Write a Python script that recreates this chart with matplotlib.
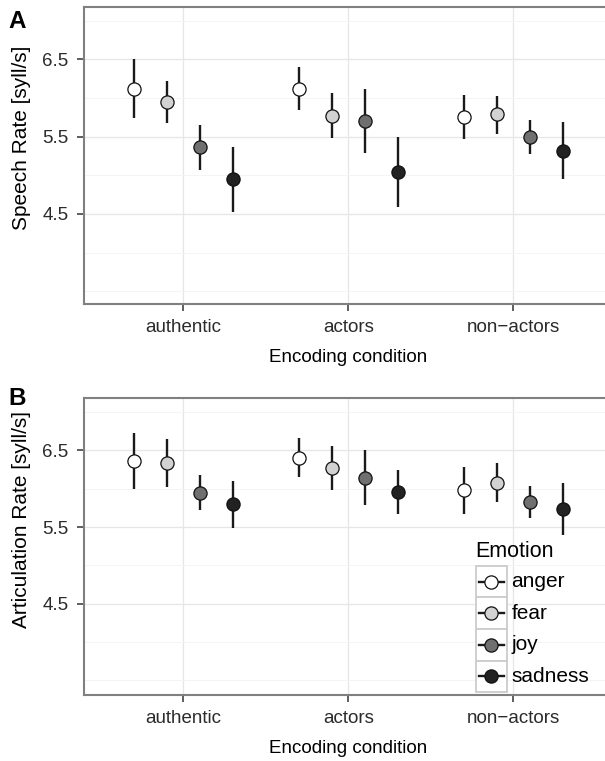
import numpy as np
import matplotlib
matplotlib.use('Agg')
import matplotlib.pyplot as plt
from matplotlib.patches import Rectangle
from matplotlib.lines import Line2D

plt.rcParams['font.family'] = ['Liberation Sans', 'DejaVu Sans']

# data
conditions = ['authentic', 'actors', 'non\u2212actors']
emotions = ['anger', 'fear', 'joy', 'sadness']
emo_colors = ['#ffffff', '#d2d2d2', '#6f6f6f', '#222222']

# speech rate: rows = condition, cols = emotion
speech_mean = [[6.12, 5.95, 5.36, 4.95],
               [6.12, 5.77, 5.70, 5.04],
               [5.75, 5.79, 5.49, 5.32]]
speech_low = [[5.74, 5.68, 5.07, 4.53],
              [5.84, 5.48, 5.29, 4.59],
              [5.47, 5.53, 5.27, 4.95]]
speech_high = [[6.50, 6.22, 5.65, 5.37],
               [6.40, 6.06, 6.11, 5.50],
               [6.04, 6.03, 5.71, 5.69]]

# articulation rate
artic_mean = [[6.36, 6.34, 5.95, 5.80],
              [6.40, 6.27, 6.14, 5.96],
              [5.98, 6.08, 5.83, 5.73]]
artic_low = [[6.00, 6.02, 5.72, 5.49],
             [6.15, 5.98, 5.79, 5.67],
             [5.67, 5.82, 5.62, 5.39]]
artic_high = [[6.72, 6.65, 6.18, 6.10],
              [6.66, 6.55, 6.50, 6.24],
              [6.28, 6.34, 6.04, 6.08]]

W, H = 605, 761
fig = plt.figure(figsize=(W / 100, H / 100), dpi=100)

def fx(x):
    return x / W

def fy(y):
    return 1 - y / H

dodge = [-0.3, -0.1, 0.1, 0.3]
xpos = np.arange(1, len(conditions) + 1)

def panel(rect, mean, low, high, ylim, ylabel, ylab_y, letter, letter_y):
    ax = fig.add_axes(rect)
    mean = np.array(mean)
    low = np.array(low)
    high = np.array(high)
    for j, emo in enumerate(emotions):
        xs = xpos + dodge[j]
        ax.vlines(xs, low[:, j], high[:, j], color='#1a1a1a', lw=1.7, zorder=3)
        ax.plot(xs, mean[:, j], 'o', ms=9.5, mfc=emo_colors[j], mec='#111111',
                mew=0.9, zorder=4)
    ax.set_xlim(0.4, 3.6)
    ax.set_ylim(*ylim)
    ax.set_xticks(xpos)
    ax.set_xticklabels(conditions)
    ax.set_yticks([4.5, 5.5, 6.5])
    ax.set_yticks([3.5, 4.0, 5.0, 6.0, 7.0], minor=True)
    ax.grid(which='major', color='#e6e6e6', lw=0.9, zorder=0)
    ax.grid(which='minor', axis='y', color='#f4f4f4', lw=0.7, zorder=0)
    ax.set_axisbelow(True)
    for s in ax.spines.values():
        s.set_color('#808080')
        s.set_linewidth(1.5)
    ax.tick_params(which='major', length=5, width=1.1, color='#333333',
                   labelsize=13.5, labelcolor='#2b2b2b', pad=6)
    ax.tick_params(which='minor', length=0)
    ax.set_xlabel('Encoding condition', fontsize=13.5, labelpad=9)
    fig.text(fx(22), fy(ylab_y), ylabel, rotation=90, fontsize=15,
             ha='center', va='center')
    fig.text(fx(17), fy(letter_y), letter, fontsize=17.5, fontweight='bold',
             ha='center', va='center')
    return ax

# panel A
axA = panel([fx(84), fy(304), fx(612.6 - 84), (304 - 7.3) / H],
            speech_mean, speech_low, speech_high, (3.336, 7.172),
            'Speech Rate [syll/s]', 138, 'A', 22)

# panel B
axB = panel([fx(84), fy(695), fx(612.6 - 84), (695 - 397.7) / H],
            artic_mean, artic_low, artic_high, (3.31, 7.186),
            'Articulation Rate [syll/s]', 520, 'B', 399)

# legend inside panel B, drawn by hand (ggplot-style key boxes)
fig.text(fx(475.5), fy(551.7), 'Emotion', fontsize=15.5, ha='left', va='center')
key = 31.6
top = 565.7
for i, emo in enumerate(emotions):
    y0 = top + key * i
    fig.add_artist(Rectangle((fx(475.5), fy(y0 + key)), key / W, key / H,
                             transform=fig.transFigure, facecolor='white',
                             edgecolor='#cccccc', lw=1.3, zorder=5))
    cy = y0 + key / 2
    fig.add_artist(Line2D([fx(479), fx(504)], [fy(cy), fy(cy)],
                          transform=fig.transFigure, color='#1a1a1a', lw=1.7,
                          zorder=6))
    fig.add_artist(Line2D([fx(491.3)], [fy(cy)], transform=fig.transFigure,
                          marker='o', ms=9.5, mfc=emo_colors[i], mec='#111111',
                          mew=0.9, zorder=7))
    fig.text(fx(511.5), fy(cy), emo, fontsize=15, ha='left', va='center')

fig.savefig('out.png', dpi=100)
